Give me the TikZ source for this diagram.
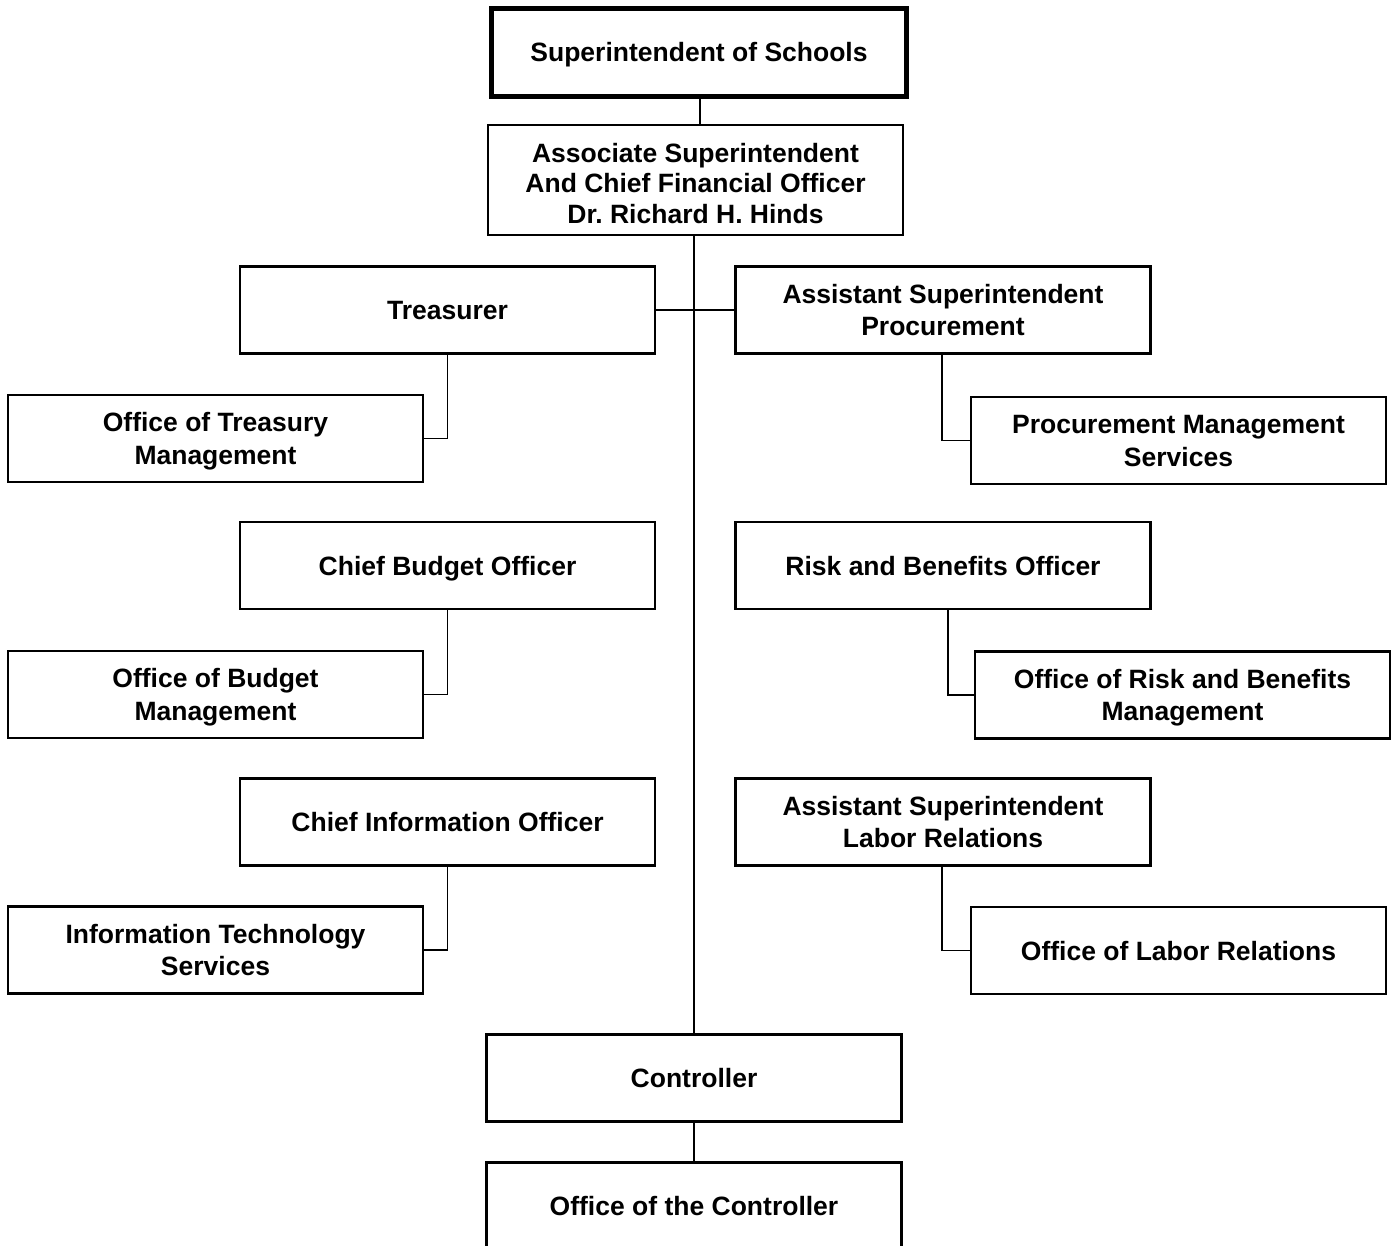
\documentclass[tikz,border=0pt]{standalone}
\usepackage{fontspec}
\setmainfont{Liberation Sans}
\begin{document}
\begin{tikzpicture}[x=1pt,y=-1pt,
  orgbox/.style={draw=black, line width=2.6pt, fill=white, minimum width=415pt,
    minimum height=87pt, inner sep=0pt, align=center,
    font=\fontsize{26.5}{32.5}\selectfont\bfseries\frenchspacing,
    % struts keep the capital letters centred whatever the descenders
    execute at begin node={\rule{0pt}{25.5pt}},
    execute at end node={\rule[-6.5pt]{0pt}{0pt}}},
  twoline/.style={execute at begin node={\rule{0pt}{58pt}}},
  topbox/.style={orgbox, line width=5pt, minimum height=88pt},
  link/.style={draw=black, line width=1.6pt}]
\useasboundingbox (0,0) rectangle (1396,1245);
\clip (0,0) rectangle (1396,1245);

% boxes
\node[topbox] (sup) at (699,52) {Superintendent of Schools};
\node[orgbox, minimum height=110pt,
      font=\fontsize{26.5}{30.4}\selectfont\bfseries\frenchspacing,
      execute at begin node={\rule{0pt}{93pt}}] (assoc) at (695.5,180)
  {Associate Superintendent\\And Chief Financial Officer\\Dr. Richard H. Hinds};

\node[orgbox] (treas) at (447.5,310) {Treasurer};
\node[orgbox, twoline] (proc) at (943,310) {Assistant Superintendent\\Procurement};

\node[orgbox, twoline] (otm) at (215.5,438.5) {Office of Treasury\\Management};
\node[orgbox, twoline] (pms) at (1178.5,440.5) {Procurement Management\\Services};

\node[orgbox] (cbo) at (447.5,565.5) {Chief Budget Officer};
\node[orgbox] (rbo) at (943,565.5) {Risk and Benefits Officer};

\node[orgbox, twoline] (obm) at (215.5,694.5) {Office of Budget\\Management};
\node[orgbox, twoline] (orbm) at (1182.5,695) {Office of Risk and Benefits\\Management};

\node[orgbox] (cio) at (447.5,822) {Chief Information Officer};
\node[orgbox, twoline] (lab) at (943,822) {Assistant Superintendent\\Labor Relations};

\node[orgbox, twoline] (its) at (215.5,950) {Information Technology\\Services};
\node[orgbox] (olr) at (1178.5,950.5) {Office of Labor Relations};

\node[orgbox] (ctrl) at (694,1078) {Controller};
\node[orgbox] (octrl) at (694,1206) {Office of the Controller};

% connectors
\draw[link] ([xshift=1pt]sup.south) -- ([xshift=1pt]sup.south |- assoc.north);
\draw[link] (ctrl.north |- assoc.south) -- (ctrl.north);
\draw[link] (treas.east) -- (proc.west);
\draw[link] (ctrl.south) -- (octrl.north);

\draw[link] (treas.south) |- (otm.east);
\draw[link] ([xshift=-1pt]proc.south) |- (pms.west);
\draw[link] (cbo.south) |- (obm.east);
\draw[link] ([xshift=5pt]rbo.south) |- (orbm.west);
\draw[link] (cio.south) |- (its.east);
\draw[link] ([xshift=-1pt]lab.south) |- (olr.west);
\end{tikzpicture}
\end{document}
